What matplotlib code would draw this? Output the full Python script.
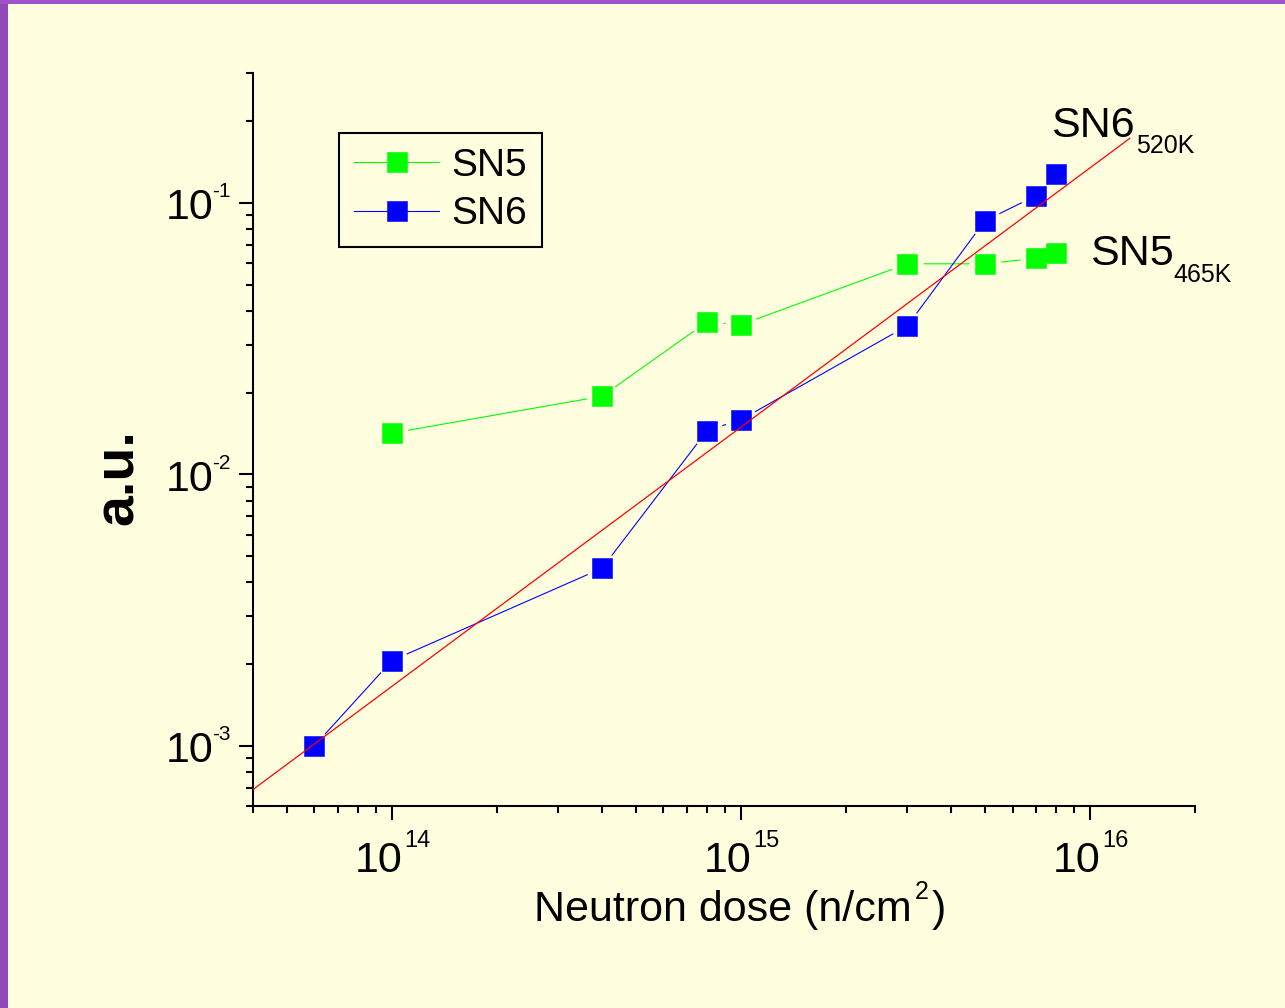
import matplotlib.pyplot as plt
from matplotlib.lines import Line2D
from matplotlib.patches import Rectangle
from matplotlib.ticker import NullFormatter, LogLocator

plt.rcParams['font.family'] = ['Liberation Sans', 'DejaVu Sans']

# neutron dose (n/cm^2) and signal (a.u.)
sn5_dose = [1e14, 4e14, 8e14, 1e15, 3e15, 5e15, 7e15, 8e15]
sn5_val = [0.0142, 0.0194, 0.0365, 0.0356, 0.0597, 0.0597, 0.0625, 0.0657]
sn6_dose = [6e13, 1e14, 4e14, 8e14, 1e15, 3e15, 5e15, 7e15, 8e15]
sn6_val = [0.00100, 0.00206, 0.00451, 0.0145, 0.0159, 0.0353, 0.0860, 0.1063, 0.1284]
# straight-line fit through SN6 on log-log axes
fit_dose = [4.0e13, 1.3e16]
fit_val = [6.9e-4, 0.173]

x_decades = [14, 15, 16]
y_decades = [-1, -2, -3]

bg = '#ffffe0'
W, H = 1285, 1008


def fx(x):
    return x / W


def fy(y):
    return 1 - y / H


fig = plt.figure(figsize=(W / 100, H / 100), dpi=100, facecolor=bg)

# purple frame along the left and top edges
fig.add_artist(Rectangle((0, 0), fx(8), 1, transform=fig.transFigure,
                         color='#9249b8', lw=0))
fig.add_artist(Rectangle((0, fy(4)), 1, 4 / H, transform=fig.transFigure,
                         color='#a052cc', lw=0))

ax = fig.add_axes([fx(253), fy(806), fx(1195) - fx(253), fy(73.5) - fy(806)])
ax.set_facecolor(bg)
ax.set_xscale('log')
ax.set_yscale('log')
ax.set_xlim(4e13, 2e16)
ax.set_ylim(6e-4, 0.3)

series = [(sn5_dose, sn5_val, '#00ff00', 'SN5'),
          (sn6_dose, sn6_val, '#0000ff', 'SN6')]

for xs, ys, c, _ in series:
    ax.plot(xs, ys, color=c, lw=0.8, zorder=2)
# background-coloured disks leave a small gap between lines and symbols
for xs, ys, c, _ in series:
    ax.plot(xs, ys, ls='none', marker='o', ms=23, mfc=bg, mec='none', zorder=3)
for xs, ys, c, _ in series:
    ax.plot(xs, ys, ls='none', marker='s', ms=15, mfc=c, mec=c, mew=0.4, zorder=4)
ax.plot(fit_dose, fit_val, color='#ff0000', lw=0.9, zorder=5)

for side in ['top', 'right']:
    ax.spines[side].set_visible(False)
for side in ['left', 'bottom']:
    ax.spines[side].set_linewidth(1.5)

ax.xaxis.set_major_locator(LogLocator(base=10, numticks=10))
ax.xaxis.set_minor_locator(LogLocator(base=10, subs=range(2, 10), numticks=20))
ax.yaxis.set_major_locator(LogLocator(base=10, numticks=10))
ax.yaxis.set_minor_locator(LogLocator(base=10, subs=range(2, 10), numticks=20))
for axis in [ax.xaxis, ax.yaxis]:
    axis.set_major_formatter(NullFormatter())
    axis.set_minor_formatter(NullFormatter())
ax.tick_params(which='major', direction='out', length=10, width=1.5)
ax.tick_params(which='minor', direction='out', length=5, width=1.5)

# power-of-ten tick labels with small raised exponents
for e in x_decades:
    ax.annotate('10', xy=(10.0 ** e, 0), xycoords=('data', 'axes fraction'),
                xytext=(7.5, -47.5), textcoords='offset points',
                ha='right', va='baseline', fontsize=31, annotation_clip=False)
    ax.annotate(str(e), xy=(10.0 ** e, 0), xycoords=('data', 'axes fraction'),
                xytext=(8.7, -29.5), textcoords='offset points',
                ha='left', va='baseline', fontsize=17, annotation_clip=False)
for e in y_decades:
    ax.annotate('10', xy=(0, 10.0 ** e), xycoords=('axes fraction', 'data'),
                xytext=(-28.3, -11.7), textcoords='offset points',
                ha='right', va='baseline', fontsize=31, annotation_clip=False)
    ax.annotate(str(e), xy=(0, 10.0 ** e), xycoords=('axes fraction', 'data'),
                xytext=(-29.3, 4.1), textcoords='offset points',
                ha='left', va='baseline', fontsize=15, annotation_clip=False)

# axis titles
fig.text(fx(534), fy(921), 'Neutron dose (n/cm', fontsize=31, va='baseline')
fig.text(fx(915), fy(899), '2', fontsize=18, va='baseline')
fig.text(fx(932), fy(921), ')', fontsize=31, va='baseline')
fig.text(fx(133), fy(477.5), 'a.u.', rotation=90, rotation_mode='anchor',
         ha='center', va='baseline', fontsize=40, fontweight='bold')

# curve labels with temperature subscripts
fig.text(fx(1051), fy(137), 'SN6', fontsize=31, va='baseline')
fig.text(fx(1136), fy(153), '520K', fontsize=18, va='baseline')
fig.text(fx(1090), fy(265), 'SN5', fontsize=31, va='baseline')
fig.text(fx(1173), fy(282), '465K', fontsize=18, va='baseline')

handles = [Line2D([], [], color=c, lw=0.8, marker='s', ms=15, mfc=c, mec=c, mew=0.4)
           for _, _, c, _ in series]
labels = [name for _, _, _, name in series]
leg = ax.legend(handles, labels, loc='upper left',
                bbox_to_anchor=(fx(339), fy(133)), bbox_transform=fig.transFigure,
                borderaxespad=0, fontsize=28, fancybox=False, edgecolor='black',
                facecolor=bg, framealpha=1, handlelength=2.2, handletextpad=0.3,
                borderpad=0.38, labelspacing=0.32, numpoints=1)
leg.get_frame().set_linewidth(1.5)

fig.savefig('out.png', dpi=100, facecolor=bg)
